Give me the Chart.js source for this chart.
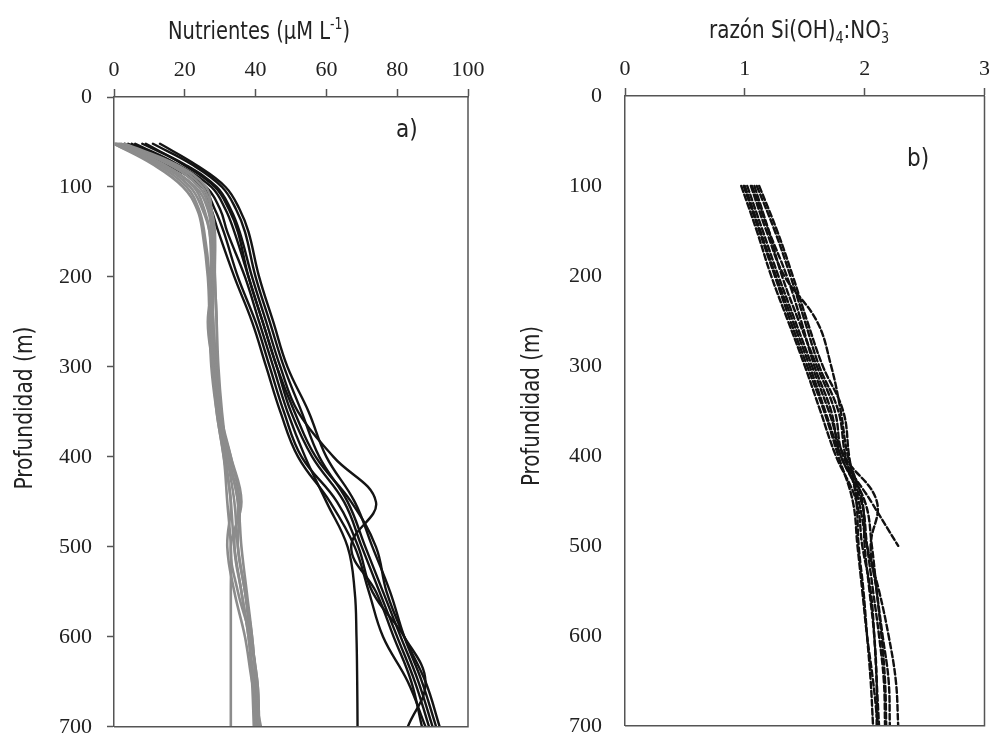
<!DOCTYPE html>
<html>
<head>
<meta charset="utf-8">
<script src="https://cdn.jsdelivr.net/npm/chart.js@4"></script>
<style>
  body { margin: 0; background: #fff; }
  #wrap { position: relative; width: 996px; height: 755px; }
  canvas { position: absolute; top: 0; }
</style>
</head>
<body>
<div id="wrap">
  <canvas id="left" width="498" height="755" style="left:0"></canvas>
  <canvas id="right" width="498" height="755" style="left:498px"></canvas>
</div>
<script>
// panel a) depth (m) and nutrient profiles (uM L-1)
const depthA = [52, 75, 100, 125, 150, 200, 250, 300, 350, 400, 450, 500, 550, 600, 650, 700];
const blackProfiles = [
  [5, 17, 26, 30, 32, 37, 41, 45, 49, 54, 60, 66, 68, 68.5, 68.7, 68.8],
  [8, 20, 29, 33, 35.5, 39, 43, 47, 52, 62, 74, 67, 74, 79, 84, 87],
  [3, 15, 25, 28.5, 31, 35, 40, 44, 48, 53, 63, 69, 73, 82, 88, 83],
  [11, 22, 30.5, 34.5, 37, 40, 44, 48, 53, 58, 66, 71, 76, 81, 86, 90],
  [6, 18, 27.5, 31.5, 34, 38, 42, 46, 50, 56, 65, 70, 75, 80, 85, 89],
  [13, 23, 31.5, 35.5, 38, 41, 45, 49, 55, 60, 68, 73, 78, 82, 87, 91],
  [4, 16, 25, 27.5, 29.5, 34, 39, 43, 47, 52, 61, 68, 72, 76, 83, 88],
  [9, 19.5, 28.5, 32.5, 35, 38, 42, 46, 51, 57, 67, 74, 77, 82, 88, 92]
];
const grayProfiles = [
  [0, 12, 20.5, 24, 25.5, 27, 27.5, 28, 29, 31, 32, 33, 33, 33, 33, 33],
  [1, 14, 22.5, 25.5, 27, 27.5, 28, 28.5, 30, 32, 35, 34, 36, 38, 39.5, 40],
  [0.5, 13, 21.5, 25, 27, 28, 26.5, 28, 29.5, 33, 36, 33, 35, 38.5, 40.5, 41],
  [2, 15.5, 24, 27, 28, 28.5, 29, 29.5, 30.5, 32, 34, 35, 37, 39, 40, 40.5],
  [0, 11, 19.5, 23.5, 25, 26.5, 27, 27.5, 29, 31, 33, 32, 34, 37, 39, 41.5],
  [1.5, 16.5, 25, 27.5, 28.5, 28.5, 29, 29, 30, 32.5, 35, 36, 37.5, 39, 40, 40],
  [0.5, 13.5, 23, 26.5, 27.5, 28, 28, 28.5, 29.5, 31.5, 33, 34, 36, 38, 39, 39.5],
  [3, 17.5, 26, 27.5, 28, 27.5, 28, 29, 30, 33, 35.5, 35, 37, 38.5, 40.5, 41]
];

// panel b) Si(OH)4:NO3- ratio profiles
const depthB = [100, 150, 200, 250, 300, 350, 400, 450, 500, 550, 600, 650, 700];
const ratioProfiles = [
  [0.97, 1.1, 1.22, 1.36, 1.5, 1.63, 1.76, 1.93, 1.98, 2.05, 2.08, 2.1, 2.12],
  [1.0, 1.13, 1.26, 1.4, 1.54, 1.67, 1.8, 1.97, 2.02, 2.07, 2.12, 2.16, 2.17],
  [1.05, 1.18, 1.33, 1.6, 1.72, 1.8, 1.86, 1.98, 2.0, 2.04, 2.08, 2.1, 2.1],
  [1.08, 1.2, 1.31, 1.45, 1.6, 1.75, 1.82, 2.05, 2.28],
  [1.1, 1.25, 1.38, 1.5, 1.62, 1.78, 1.84, 1.95, 2.02, 2.12, 2.2, 2.26, 2.28],
  [1.02, 1.15, 1.28, 1.42, 1.56, 1.7, 1.83, 2.1, 2.05, 2.1, 2.15, 2.2, 2.21],
  [1.12, 1.27, 1.4, 1.52, 1.65, 1.82, 1.87, 1.93, 1.95, 1.99, 2.02, 2.05, 2.07],
  [1.06, 1.2, 1.35, 1.47, 1.58, 1.72, 1.8, 2.0, 2.06, 2.1, 2.14, 2.17, 2.18],
  [0.99, 1.12, 1.25, 1.38, 1.52, 1.66, 1.78, 1.9, 1.94, 1.98, 2.02, 2.07, 2.11]
];

const xTicksA = [0, 20, 40, 60, 80, 100];
const xTicksB = [0, 1, 2, 3];
const yTicks = [0, 100, 200, 300, 400, 500, 600, 700];

const SERIF = "'Liberation Serif', 'Times New Roman', serif";
const NARROW = "'Liberation Sans Narrow', 'DejaVu Sans Condensed', 'Roboto', sans-serif";
const AXIS = '#555';

function toPoints(values, depths) {
  return values.map((v, i) => ({ x: v, y: depths[i] }));
}

// draws text pieces (normal / sup / sub), squeezed to the width measured on the picture
const textPlugin = {
  id: 'texts',
  afterDraw(chart, args, opts) {
    const ctx = chart.ctx;
    (opts.items || []).forEach(item => {
      const size = item.size;
      const small = Math.round(size * 0.62);
      ctx.save();
      let total = 0;
      const parts = item.parts.map(p => {
        const [txt, kind] = p;
        ctx.font = (kind ? small : size) + 'px ' + NARROW;
        const w = ctx.measureText(txt).width;
        const r = { txt, kind, w, x: total };
        if (kind !== 'supover') total += w;
        return r;
      });
      // 'supover' sits above the previous subscript
      parts.forEach((p, i) => {
        if (p.kind === 'supover') {
          p.x = parts[i - 1].x + 2;
          total = Math.max(total, p.x + p.w);
        }
      });
      const width = item.width || total;
      const sx = width / total;
      ctx.translate(item.x, item.y);
      if (item.rotate) ctx.rotate(item.rotate);
      const startX = item.rotate ? -width / 2 : 0;
      ctx.scale(sx, 1);
      ctx.fillStyle = '#222';
      ctx.textBaseline = 'alphabetic';
      ctx.textAlign = 'left';
      parts.forEach(p => {
        let dy = 0;
        if (p.kind === 'sup' || p.kind === 'supover') dy = -size * 0.42;
        if (p.kind === 'sub') dy = size * 0.2;
        ctx.font = (p.kind ? small : size) + 'px ' + NARROW;
        ctx.fillText(p.txt, startX / sx + p.x, dy);
      });
      ctx.restore();
    });
  }
};

const boxPlugin = {
  id: 'box',
  afterDatasetsDraw(chart) {
    const { ctx, chartArea: a } = chart;
    ctx.save();
    ctx.strokeStyle = AXIS;
    ctx.lineWidth = 1.5;
    ctx.beginPath();
    ctx.moveTo(a.right, a.top);
    ctx.lineTo(a.right, a.bottom);
    ctx.lineTo(a.left, a.bottom);
    ctx.stroke();
    ctx.restore();
  }
};

function makeOptions(cfg) {
  return {
    responsive: false,
    animation: false,
    layout: { padding: cfg.padding },
    elements: { point: { radius: 0 }, line: { tension: 0.4, borderCapStyle: 'round' } },
    plugins: {
      legend: { display: false },
      tooltip: { enabled: false },
      texts: { items: cfg.texts }
    },
    scales: {
      x: {
        type: 'linear',
        position: 'top',
        min: cfg.xMin, max: cfg.xMax,
        afterBuildTicks: s => { s.ticks = cfg.xTicks.map(v => ({ value: v })); },
        afterFit: s => { s.height = cfg.top; },
        ticks: { font: { family: SERIF, size: 22 }, color: '#222', padding: 6, maxRotation: 0 },
        grid: { drawOnChartArea: false, tickLength: 8, tickColor: AXIS, tickWidth: 1.5 },
        border: { color: AXIS, width: 1.5 }
      },
      y: {
        type: 'linear',
        reverse: true,
        min: 0, max: 700,
        afterBuildTicks: s => { s.ticks = yTicks.map(v => ({ value: v })); },
        afterFit: s => { s.width = cfg.left; },
        ticks: { font: { family: SERIF, size: 22 }, color: '#222', padding: cfg.yPad },
        grid: { drawOnChartArea: false, tickLength: 7, tickColor: cfg.yTickColor, tickWidth: 1.5 },
        border: { color: AXIS, width: 1.5 }
      }
    }
  };
}

const dsA = [
  ...grayProfiles.map(p => ({
    data: toPoints(p, depthA), borderColor: '#8c8c8c', borderWidth: 2.6, showLine: true
  })),
  ...blackProfiles.map(p => ({
    data: toPoints(p, depthA), borderColor: '#141414', borderWidth: 2.4, showLine: true
  }))
];

new Chart(document.getElementById('left'), {
  type: 'scatter',
  data: { datasets: dsA },
  options: makeOptions({
    padding: { left: 0, top: 0, right: 30, bottom: 9 },
    top: 97, left: 114, yPad: 15, yTickColor: AXIS,
    xMin: 0, xMax: 100, xTicks: xTicksA,
    texts: [
      { parts: [['Nutrientes (µM L'], ['-1', 'sup'], [')']], x: 168, y: 39, size: 25, width: 182 },
      { parts: [['Profundidad (m)']], x: 32, y: 408, size: 24, width: 163, rotate: -Math.PI / 2 },
      { parts: [['a)']], x: 396, y: 137, size: 24 }
    ]
  }),
  plugins: [textPlugin, boxPlugin]
});

const dsB = ratioProfiles.map(p => ({
  data: toPoints(p, depthB), borderColor: '#111', borderWidth: 2.4,
  borderDash: [6, 3], showLine: true
}));

new Chart(document.getElementById('right'), {
  type: 'scatter',
  data: { datasets: dsB },
  options: makeOptions({
    padding: { left: 0, top: 0, right: 7, bottom: 9 },
    top: 96, left: 127, yPad: 16, yTickColor: 'rgba(0,0,0,0)',
    xMin: 0, xMax: 3, xTicks: xTicksB,
    texts: [
      { parts: [['razón Si(OH)'], ['4', 'sub'], [':NO'], ['3', 'sub'], ['-', 'supover']], x: 211, y: 38, size: 25, width: 180 },
      { parts: [['Profundidad (m)']], x: 41, y: 406, size: 24, width: 160, rotate: -Math.PI / 2 },
      { parts: [['b)']], x: 409, y: 166, size: 24 }
    ]
  }),
  plugins: [textPlugin, boxPlugin]
});
</script>
</body>
</html>
